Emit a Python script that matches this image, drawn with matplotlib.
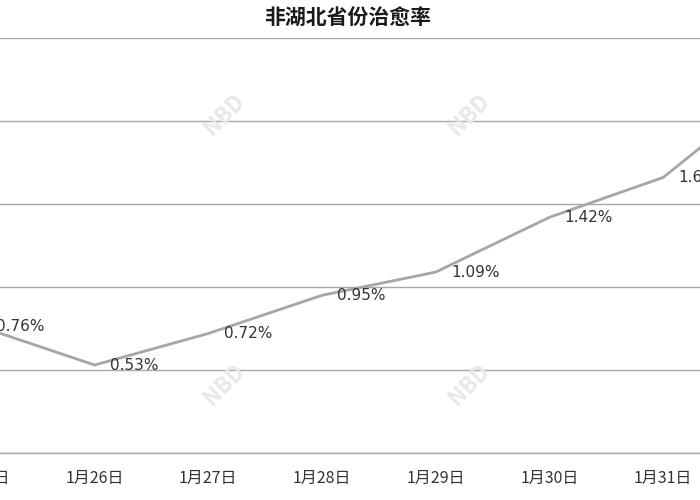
import matplotlib
matplotlib.use('Agg')
import matplotlib.pyplot as plt

plt.rcParams['font.family'] = ['Noto Sans CJK SC', 'DejaVu Sans']

dates = ['1月25日', '1月26日', '1月27日', '1月28日', '1月29日', '1月30日', '1月31日', '2月1日']
rate = [0.76, 0.53, 0.72, 0.95, 1.09, 1.42, 1.66, 2.21]
labels = ['0.76%', '0.53%', '0.72%', '0.95%', '1.09%', '1.42%', '1.66%', '2.21%']

fig = plt.figure(figsize=(7, 5), dpi=100)
# the picture only shows a window of the full chart, so the axes run past the figure edges
ax = fig.add_axes([-0.1143, 0.094, 1.2857, 0.83])

x = list(range(len(dates)))
ax.plot(x, rate, color='#a6a6a6', lw=2, solid_joinstyle='round', zorder=3)

for i in x:
    ax.annotate(labels[i], (x[i], rate[i]), xytext=(11, 0), textcoords='offset points',
                ha='left', va='center', fontsize=11, color='#333333',
                family=['DejaVu Sans'], zorder=4)

ax.set_xticks(x)
ax.set_xticklabels(dates, fontsize=11.5, color='#333333')
ax.set_yticks([0, 0.5, 1.0, 1.5, 2.0, 2.5])
ax.set_xlim(-0.536, 7.379)
ax.set_ylim(0, 2.5)
ax.grid(axis='y', color='#a8a8a8', lw=1)
ax.set_axisbelow(True)
ax.tick_params(axis='x', length=0, pad=12)
ax.tick_params(axis='y', length=0, labelleft=False)
for s in ['top', 'right', 'left']:
    ax.spines[s].set_visible(False)
ax.spines['bottom'].set_color('#a8a8a8')
ax.spines['bottom'].set_linewidth(1)

# faint watermarks
for wx, wy in [(0.32, 0.77), (0.67, 0.77), (0.32, 0.23), (0.67, 0.23)]:
    fig.text(wx, wy, 'NBD', fontsize=16, fontweight='bold', color='#e8e8e8',
             rotation=45, ha='center', va='center', zorder=0)

fig.text(0.497, 0.963, '非湖北省份治愈率', ha='center', va='center', fontsize=15,
         fontweight='bold', color='#1a1a1a')

fig.savefig('out.png', dpi=100)
